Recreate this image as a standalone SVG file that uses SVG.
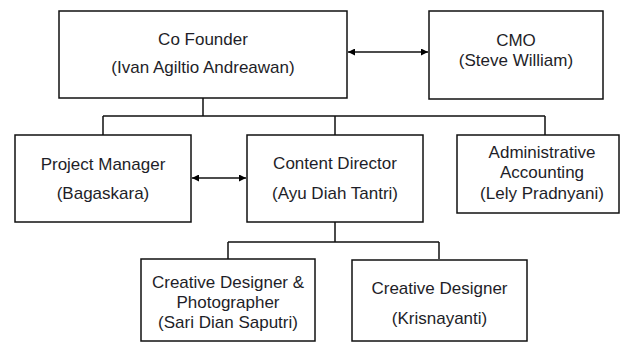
<svg xmlns="http://www.w3.org/2000/svg" width="621" height="343" viewBox="0 0 621 343">
<defs>
<marker id="ah" viewBox="0 0 10 10" refX="10" refY="5" markerWidth="7" markerHeight="7" markerUnits="userSpaceOnUse" orient="auto-start-reverse">
<path d="M0,0 L10,5 L0,10 z" fill="#000"/>
</marker>
</defs>
<style>
.box{fill:#fff;stroke:#111;stroke-width:1.5}
.ln{fill:none;stroke:#111;stroke-width:1.5}
text{font-family:"Liberation Sans",Arial,sans-serif;font-size:17px;fill:#1e1e28;text-anchor:middle}
</style>
<rect width="621" height="343" fill="#fff"/>
<g id="connectors">
<path class="ln" d="M203,98 V116 M103,116 H545 M103,116 V135 M335,116 V135 M545,116 V135"/>
<path class="ln" d="M335,222 V242 M228,242 H439 M228,242 V259 M439,242 V259"/>
<line class="ln" x1="348" y1="52" x2="428" y2="52" marker-start="url(#ah)" marker-end="url(#ah)"/>
<line class="ln" x1="192" y1="178" x2="246" y2="178" marker-start="url(#ah)" marker-end="url(#ah)"/>
</g>
<g id="cofounder">
<rect class="box" x="59" y="11" width="288" height="87"/>
<text x="203" y="45">Co Founder</text>
<text x="203" y="73">(Ivan Agiltio Andreawan)</text>
</g>
<g id="cmo">
<rect class="box" x="429" y="11" width="174" height="88"/>
<text x="516" y="46">CMO</text>
<text x="516" y="66">(Steve William)</text>
</g>
<g id="pm">
<rect class="box" x="15" y="135" width="176" height="87"/>
<text x="103" y="170">Project Manager</text>
<text x="103" y="199">(Bagaskara)</text>
</g>
<g id="cd">
<rect class="box" x="247" y="135" width="176" height="87"/>
<text x="335" y="169">Content Director</text>
<text x="335" y="199">(Ayu Diah Tantri)</text>
</g>
<g id="admin">
<rect class="box" x="457" y="135" width="162" height="78"/>
<text x="542" y="158">Administrative</text>
<text x="542" y="178">Accounting</text>
<text x="542" y="199">(Lely Pradnyani)</text>
</g>
<g id="cdp">
<rect class="box" x="141" y="259" width="174" height="82"/>
<text x="228" y="288">Creative Designer &amp;</text>
<text x="228" y="308">Photographer</text>
<text x="228" y="328">(Sari Dian Saputri)</text>
</g>
<g id="cdk">
<rect class="box" x="352" y="260" width="175" height="81"/>
<text x="439.5" y="294">Creative Designer</text>
<text x="439.5" y="324">(Krisnayanti)</text>
</g>
</svg>
